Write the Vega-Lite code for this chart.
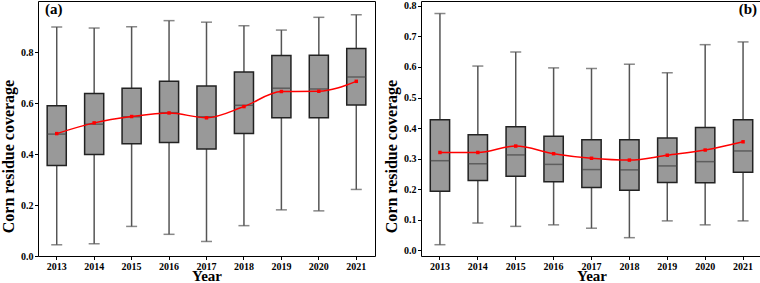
{
  "$schema": "https://vega.github.io/schema/vega-lite/v6.json",
  "background": "white",
  "padding": {"left": 0, "top": 0, "right": 0, "bottom": 0},
  "bounds": "flush",
  "spacing": 46,
  "datasets": {
    "a": [
      {"year": "2013", "lo": 0.044, "q1": 0.355, "med": 0.478, "q3": 0.589, "hi": 0.898, "mean": 0.480},
      {"year": "2014", "lo": 0.048, "q1": 0.398, "med": 0.517, "q3": 0.637, "hi": 0.894, "mean": 0.522},
      {"year": "2015", "lo": 0.116, "q1": 0.440, "med": 0.546, "q3": 0.658, "hi": 0.899, "mean": 0.547},
      {"year": "2016", "lo": 0.085, "q1": 0.445, "med": 0.562, "q3": 0.685, "hi": 0.923, "mean": 0.561},
      {"year": "2017", "lo": 0.057, "q1": 0.420, "med": 0.546, "q3": 0.667, "hi": 0.917, "mean": 0.542},
      {"year": "2018", "lo": 0.119, "q1": 0.480, "med": 0.591, "q3": 0.722, "hi": 0.903, "mean": 0.586},
      {"year": "2019", "lo": 0.181, "q1": 0.542, "med": 0.658, "q3": 0.786, "hi": 0.886, "mean": 0.645},
      {"year": "2020", "lo": 0.177, "q1": 0.542, "med": 0.655, "q3": 0.787, "hi": 0.936, "mean": 0.646},
      {"year": "2021", "lo": 0.261, "q1": 0.592, "med": 0.702, "q3": 0.814, "hi": 0.946, "mean": 0.685}
    ],
    "b": [
      {"year": "2013", "lo": 0.018, "q1": 0.193, "med": 0.293, "q3": 0.427, "hi": 0.775, "mean": 0.320},
      {"year": "2014", "lo": 0.089, "q1": 0.228, "med": 0.283, "q3": 0.378, "hi": 0.603, "mean": 0.320},
      {"year": "2015", "lo": 0.078, "q1": 0.242, "med": 0.312, "q3": 0.404, "hi": 0.649, "mean": 0.341},
      {"year": "2016", "lo": 0.083, "q1": 0.224, "med": 0.281, "q3": 0.373, "hi": 0.597, "mean": 0.316},
      {"year": "2017", "lo": 0.072, "q1": 0.205, "med": 0.264, "q3": 0.362, "hi": 0.595, "mean": 0.301},
      {"year": "2018", "lo": 0.041, "q1": 0.196, "med": 0.263, "q3": 0.362, "hi": 0.609, "mean": 0.295},
      {"year": "2019", "lo": 0.096, "q1": 0.222, "med": 0.276, "q3": 0.367, "hi": 0.581, "mean": 0.311},
      {"year": "2020", "lo": 0.083, "q1": 0.221, "med": 0.290, "q3": 0.402, "hi": 0.673, "mean": 0.328},
      {"year": "2021", "lo": 0.096, "q1": 0.255, "med": 0.325, "q3": 0.427, "hi": 0.682, "mean": 0.355}
    ]
  },
  "config": {
    "view": {"stroke": "#000000", "strokeWidth": 1},
    "axis": {
      "labelFont": "Liberation Serif", "labelFontWeight": "bold", "labelFontSize": 10, "labelColor": "#000000", "labelOverlap": false,
      "titleFont": "Liberation Serif", "titleFontWeight": "bold", "titleFontSize": 16, "titleColor": "#000000",
      "tickColor": "#000000", "tickSize": 3.5, "tickWidth": 1, "domain": false, "grid": false, "labelPadding": 1.5
    },
    "title": {"font": "Liberation Serif", "fontWeight": "bold", "fontSize": 15, "color": "#000000", "frame": "group"}
  },
  "hconcat": [
    {
      "width": 337, "height": 255,
      "title": {"text": "(a)", "anchor": "start", "offset": -16, "dx": 7},
      "data": {"name": "a"},
      "encoding": {
        "x": {"field": "year", "type": "ordinal", "title": "Year", "scale": {"paddingInner": 0, "paddingOuter": 0}, "axis": {"labelAngle": 0, "titleY": 24, "titleBaseline": "alphabetic", "titleFontSize": 15}}
      },
      "layer": [
        {"mark": {"type": "rule", "color": "#555555", "strokeWidth": 1.5},
         "encoding": {"y": {"field": "lo", "type": "quantitative", "title": "Corn residue coverage", "scale": {"domain": [0, 1], "nice": false, "zero": false}, "axis": {"values": [0, 0.2, 0.4, 0.6, 0.8], "format": ".1f", "labelOverlap": false, "titleY": 155, "titlePadding": 4}}, "y2": {"field": "hi"}}},
        {"mark": {"type": "tick", "color": "#555555", "thickness": 1.5, "size": 11}, "encoding": {"y": {"field": "lo", "type": "quantitative", "title": "Corn residue coverage", "scale": {"domain": [0, 1], "nice": false, "zero": false}, "axis": {"values": [0, 0.2, 0.4, 0.6, 0.8], "format": ".1f", "labelOverlap": false, "titleY": 155, "titlePadding": 4}}}},
        {"mark": {"type": "tick", "color": "#555555", "thickness": 1.5, "size": 11}, "encoding": {"y": {"field": "hi", "type": "quantitative", "title": "Corn residue coverage", "scale": {"domain": [0, 1], "nice": false, "zero": false}, "axis": {"values": [0, 0.2, 0.4, 0.6, 0.8], "format": ".1f", "labelOverlap": false, "titleY": 155, "titlePadding": 4}}}},
        {"mark": {"type": "bar", "fill": "#999999", "stroke": "#222222", "strokeWidth": 1.5, "width": {"band": 0.51}},
         "encoding": {"y": {"field": "q1", "type": "quantitative", "title": "Corn residue coverage", "scale": {"domain": [0, 1], "nice": false, "zero": false}, "axis": {"values": [0, 0.2, 0.4, 0.6, 0.8], "format": ".1f", "labelOverlap": false, "titleY": 155, "titlePadding": 4}}, "y2": {"field": "q3"}}},
        {"mark": {"type": "tick", "color": "#444444", "thickness": 1.5, "size": 19}, "encoding": {"y": {"field": "med", "type": "quantitative", "title": "Corn residue coverage", "scale": {"domain": [0, 1], "nice": false, "zero": false}, "axis": {"values": [0, 0.2, 0.4, 0.6, 0.8], "format": ".1f", "labelOverlap": false, "titleY": 155, "titlePadding": 4}}}},
        {"mark": {"type": "line", "color": "#ff0000", "strokeWidth": 1.5, "interpolate": "monotone"}, "encoding": {"y": {"field": "mean", "type": "quantitative", "title": "Corn residue coverage", "scale": {"domain": [0, 1], "nice": false, "zero": false}, "axis": {"values": [0, 0.2, 0.4, 0.6, 0.8], "format": ".1f", "labelOverlap": false, "titleY": 155, "titlePadding": 4}}}},
        {"mark": {"type": "point", "shape": "square", "filled": true, "color": "#ff0000", "size": 12, "opacity": 1}, "encoding": {"y": {"field": "mean", "type": "quantitative", "title": "Corn residue coverage", "scale": {"domain": [0, 1], "nice": false, "zero": false}, "axis": {"values": [0, 0.2, 0.4, 0.6, 0.8], "format": ".1f", "labelOverlap": false, "titleY": 155, "titlePadding": 4}}}}
      ]
    },
    {
      "width": 341, "height": 255,
      "title": {"text": "(b)", "anchor": "end", "offset": -16, "dx": -5},
      "data": {"name": "b"},
      "encoding": {
        "x": {"field": "year", "type": "ordinal", "title": "Year", "scale": {"paddingInner": 0, "paddingOuter": 0}, "axis": {"labelAngle": 0, "titleY": 24, "titleBaseline": "alphabetic", "titleFontSize": 15}}
      },
      "layer": [
        {"mark": {"type": "rule", "color": "#555555", "strokeWidth": 1.5},
         "encoding": {"y": {"field": "lo", "type": "quantitative", "title": "Corn residue coverage", "scale": {"domain": [-0.019, 0.816], "nice": false, "zero": false}, "axis": {"values": [0, 0.1, 0.2, 0.3, 0.4, 0.5, 0.6, 0.7, 0.8], "format": ".1f", "labelOverlap": false, "titleY": 155, "titlePadding": 4}}, "y2": {"field": "hi"}}},
        {"mark": {"type": "tick", "color": "#555555", "thickness": 1.5, "size": 11}, "encoding": {"y": {"field": "lo", "type": "quantitative", "title": "Corn residue coverage", "scale": {"domain": [-0.019, 0.816], "nice": false, "zero": false}, "axis": {"values": [0, 0.1, 0.2, 0.3, 0.4, 0.5, 0.6, 0.7, 0.8], "format": ".1f", "labelOverlap": false, "titleY": 155, "titlePadding": 4}}}},
        {"mark": {"type": "tick", "color": "#555555", "thickness": 1.5, "size": 11}, "encoding": {"y": {"field": "hi", "type": "quantitative", "title": "Corn residue coverage", "scale": {"domain": [-0.019, 0.816], "nice": false, "zero": false}, "axis": {"values": [0, 0.1, 0.2, 0.3, 0.4, 0.5, 0.6, 0.7, 0.8], "format": ".1f", "labelOverlap": false, "titleY": 155, "titlePadding": 4}}}},
        {"mark": {"type": "bar", "fill": "#999999", "stroke": "#222222", "strokeWidth": 1.5, "width": {"band": 0.51}},
         "encoding": {"y": {"field": "q1", "type": "quantitative", "title": "Corn residue coverage", "scale": {"domain": [-0.019, 0.816], "nice": false, "zero": false}, "axis": {"values": [0, 0.1, 0.2, 0.3, 0.4, 0.5, 0.6, 0.7, 0.8], "format": ".1f", "labelOverlap": false, "titleY": 155, "titlePadding": 4}}, "y2": {"field": "q3"}}},
        {"mark": {"type": "tick", "color": "#444444", "thickness": 1.5, "size": 19}, "encoding": {"y": {"field": "med", "type": "quantitative", "title": "Corn residue coverage", "scale": {"domain": [-0.019, 0.816], "nice": false, "zero": false}, "axis": {"values": [0, 0.1, 0.2, 0.3, 0.4, 0.5, 0.6, 0.7, 0.8], "format": ".1f", "labelOverlap": false, "titleY": 155, "titlePadding": 4}}}},
        {"mark": {"type": "line", "color": "#ff0000", "strokeWidth": 1.5, "interpolate": "monotone"}, "encoding": {"y": {"field": "mean", "type": "quantitative", "title": "Corn residue coverage", "scale": {"domain": [-0.019, 0.816], "nice": false, "zero": false}, "axis": {"values": [0, 0.1, 0.2, 0.3, 0.4, 0.5, 0.6, 0.7, 0.8], "format": ".1f", "labelOverlap": false, "titleY": 155, "titlePadding": 4}}}},
        {"mark": {"type": "point", "shape": "square", "filled": true, "color": "#ff0000", "size": 12, "opacity": 1}, "encoding": {"y": {"field": "mean", "type": "quantitative", "title": "Corn residue coverage", "scale": {"domain": [-0.019, 0.816], "nice": false, "zero": false}, "axis": {"values": [0, 0.1, 0.2, 0.3, 0.4, 0.5, 0.6, 0.7, 0.8], "format": ".1f", "labelOverlap": false, "titleY": 155, "titlePadding": 4}}}}
      ]
    }
  ]
}
